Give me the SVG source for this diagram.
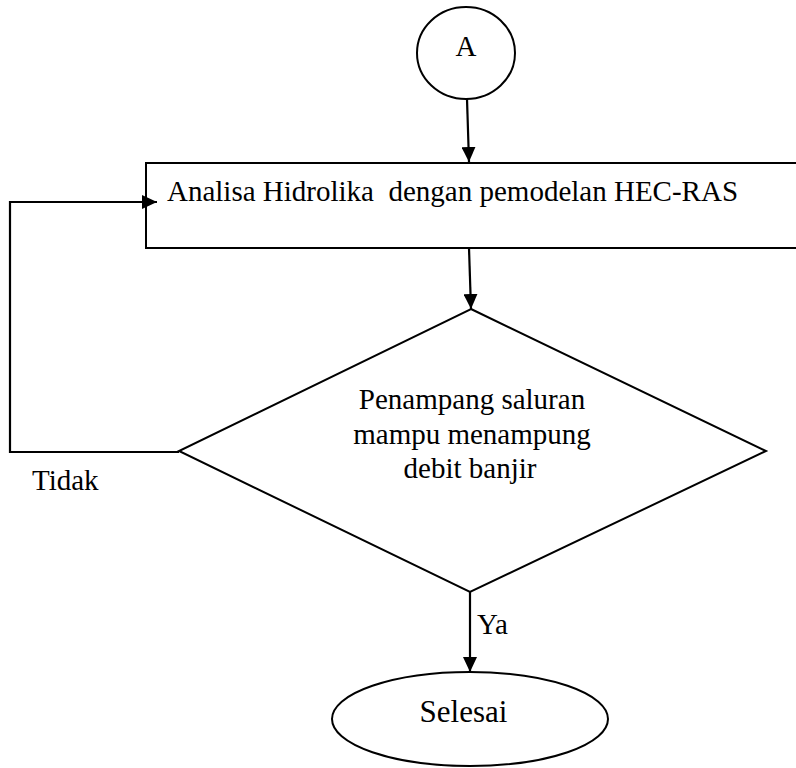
<svg xmlns="http://www.w3.org/2000/svg" width="796" height="768" viewBox="0 0 796 768">
  <style>
    .shape { fill: #ffffff; stroke: #000000; stroke-width: 2; }
    .conn { fill: none; stroke: #000000; stroke-width: 2.2; }
    .txt { font-family: "Liberation Serif", "Times New Roman", serif; font-size: 29px; fill: #000000; }
    .big { font-size: 31px; }
  </style>
  <defs>
    <marker id="arrow" viewBox="0 0 15 14" refX="15" refY="7" markerWidth="15" markerHeight="14" markerUnits="userSpaceOnUse" orient="auto">
      <path d="M0,0 L15,7 L0,14 Z" fill="#000000"/>
    </marker>
  </defs>

  <g id="node-A">
    <ellipse class="shape" cx="466" cy="53" rx="49" ry="46"/>
    <text class="txt" x="466" y="56" text-anchor="middle">A</text>
  </g>

  <g id="node-analisa">
    <rect class="shape" x="146" y="163" width="652" height="85"/>
    <text class="txt" x="167" y="201" xml:space="preserve">Analisa Hidrolika  dengan pemodelan HEC-RAS</text>
  </g>

  <g id="node-decision">
    <polygon class="shape" points="471,309 766,451 470,592 179,451"/>
    <text class="txt" x="472" y="409" text-anchor="middle">Penampang saluran</text>
    <text class="txt" x="472" y="444" text-anchor="middle">mampu menampung</text>
    <text class="txt" x="470" y="478" text-anchor="middle">debit banjir</text>
  </g>

  <g id="node-selesai">
    <ellipse class="shape" cx="470" cy="719" rx="138" ry="47"/>
    <text class="txt big" x="463.5" y="722" text-anchor="middle">Selesai</text>
  </g>

  <g id="connectors">
    <line class="conn" x1="467" y1="99" x2="469" y2="162" marker-end="url(#arrow)"/>
    <line class="conn" x1="469" y1="248" x2="471" y2="309" marker-end="url(#arrow)"/>
    <polyline class="conn" points="179,452 10,452 10,202 157,202" marker-end="url(#arrow)"/>
    <line class="conn" x1="470" y1="592" x2="470" y2="672" marker-end="url(#arrow)"/>
    <text class="txt" x="32" y="490">Tidak</text>
    <text class="txt" x="477" y="634">Ya</text>
  </g>
</svg>
